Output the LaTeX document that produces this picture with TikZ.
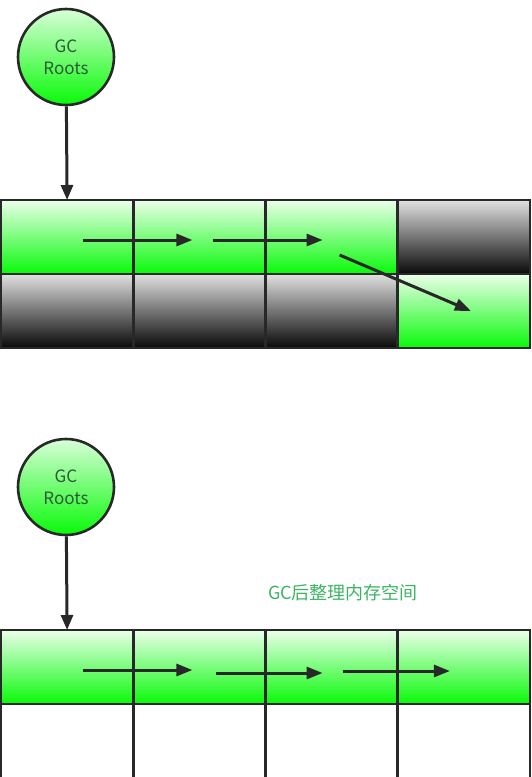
\documentclass[tikz,border=0pt]{standalone}
\usepackage{fontspec}
\setmainfont{Noto Sans CJK SC}
\usepackage{tikz}
\usetikzlibrary{arrows.meta, positioning}

\definecolor{edge}{RGB}{40,40,40}
\definecolor{live}{RGB}{8,250,8}
\definecolor{livetop}{RGB}{235,255,235}
\definecolor{deadtop}{RGB}{225,225,225}
\definecolor{deadbot}{RGB}{8,8,8}
\definecolor{roottext}{RGB}{45,90,55}
\definecolor{note}{RGB}{60,180,100}

\begin{document}
\begin{tikzpicture}[
  x=1pt, y=-1pt,
  cell/.style={draw=edge, line width=2.6pt, minimum width=132.25pt,
               minimum height=74pt, inner sep=0pt, outer sep=0pt},
  livecell/.style={cell, top color=livetop, bottom color=live},
  deadcell/.style={cell, top color=deadtop, bottom color=deadbot},
  freecell/.style={cell, fill=white},
  root/.style={circle, draw=edge, line width=2.6pt, minimum size=96pt,
               top color=green!15, bottom color=live, text=roottext,
               align=center, font=\fontsize{17}{22}\selectfont},
  arr/.style={-{Triangle[length=16pt, width=12pt]}, line width=3pt, draw=edge},
  ptr/.style={-{Triangle[length=15pt, width=12pt]}, line width=3pt, draw=edge}
]
  \useasboundingbox (0,0) rectangle (532,777);

  % before compaction
  \node[root] (r1) at (66,57) {GC\\Roots};
  \node[livecell] (a1) at (67.1,237) {};
  \node[livecell] (a2) at (199.4,237) {};
  \node[livecell] (a3) at (331.6,237) {};
  \node[deadcell] (a4) at (463.9,237) {};
  \node[deadcell] (b1) at (67.1,311) {};
  \node[deadcell] (b2) at (199.4,311) {};
  \node[deadcell] (b3) at (331.6,311) {};
  \node[livecell] (b4) at (463.9,311) {};
  \draw[ptr] (r1) -- (a1.north);
  \draw[arr] ([xshift=16pt, yshift=-3pt]a1.center) -- ([xshift=-7pt, yshift=-3pt]a2.center);
  \draw[arr] ([xshift=14pt, yshift=-3pt]a2.center) -- ([xshift=-9pt, yshift=-3pt]a3.center);
  \draw[arr] ([xshift=8pt, yshift=-18pt]a3.center) -- ([xshift=7pt, yshift=0pt]b4.center);

  % after compaction
  \node[root] (r2) at (66,487) {GC\\Roots};
  \node[text=note, font=\fontsize{18}{20}\selectfont] (msg) at (343,593) {GC后整理内存空间};
  \node[livecell] (c1) at (67.1,667) {};
  \node[livecell] (c2) at (199.4,667) {};
  \node[livecell] (c3) at (331.6,667) {};
  \node[livecell] (c4) at (463.9,667) {};
  \node[freecell, minimum height=76pt] (d1) at (67.1,742) {};
  \node[freecell, minimum height=76pt] (d2) at (199.4,742) {};
  \node[freecell, minimum height=76pt] (d3) at (331.6,742) {};
  \node[freecell, minimum height=76pt] (d4) at (463.9,742) {};
  \draw[ptr] (r2) -- (c1.north);
  \draw[arr] ([xshift=16pt, yshift=-3pt]c1.center) -- ([xshift=-7pt, yshift=-3pt]c2.center);
  \draw[arr] ([xshift=17pt, yshift=-6pt]c2.center) -- ([xshift=-9pt, yshift=-6pt]c3.center);
  \draw[arr] ([xshift=11pt, yshift=-4pt]c3.center) -- ([xshift=-14pt, yshift=-4pt]c4.center);
\end{tikzpicture}
\end{document}
